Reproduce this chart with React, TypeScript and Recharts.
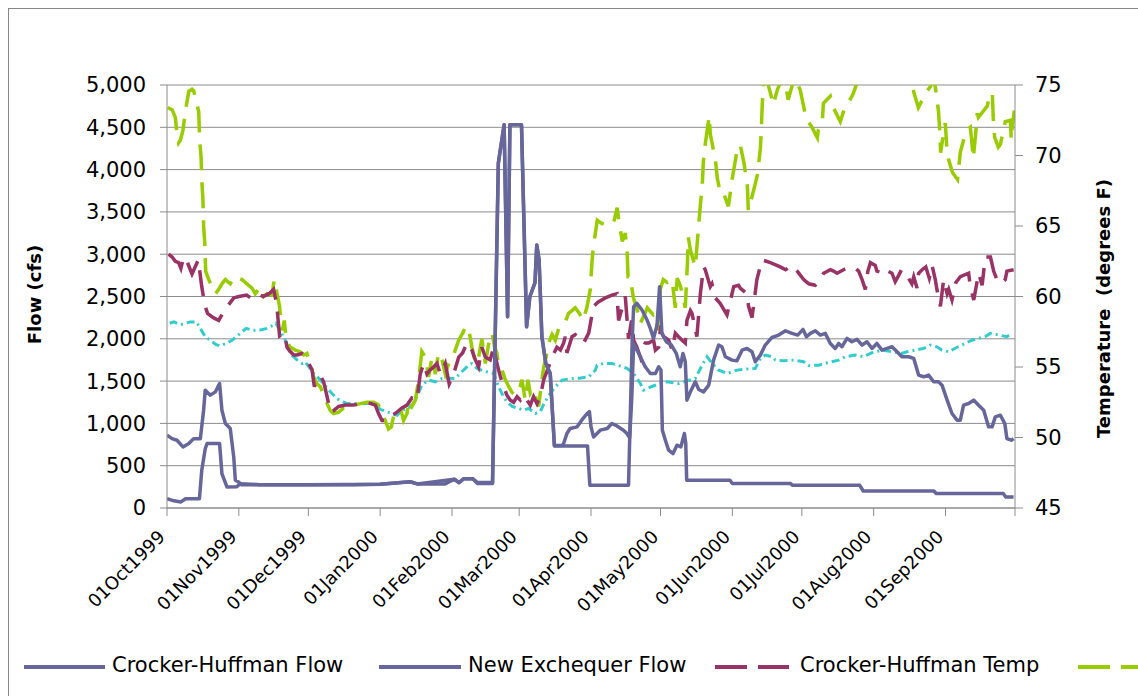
import React from 'react';
import { ComposedChart, Line, XAxis, YAxis, CartesianGrid } from 'recharts';

// day 0 = 01Oct1999
const monthTicks = [0, 31, 61, 92, 123, 152, 183, 213, 244, 274, 305, 336, 366];
const monthLabels = [
  '01Oct1999', '01Nov1999', '01Dec1999', '01Jan2000', '01Feb2000', '01Mar2000',
  '01Apr2000', '01May2000', '01Jun2000', '01Jul2000', '01Aug2000', '01Sep2000', '',
];
const flowTicks = [0, 500, 1000, 1500, 2000, 2500, 3000, 3500, 4000, 4500, 5000];
const tempTicks = [45, 50, 55, 60, 65, 70, 75];

const seriesNames = ['Crocker-Huffman Flow', 'New Exchequer Flow', 'Crocker-Huffman Temp'];

// [day, cfs]
const crockerFlow: [number, number][] = [
  [0, 110], [3, 85], [6, 72], [8, 110], [14, 110], [15, 446], [16.5, 700], [17.3, 762], [22.7, 762],
  [23.7, 406], [25.9, 248], [30, 250], [31.7, 288], [40, 276], [60, 276], [80, 276], [92, 280],
  [105, 310], [108, 285], [120, 285], [124, 340], [126, 300], [128, 345], [132, 345], [134, 290],
  [140.5, 290], [143, 4076], [145.5, 4530], [147, 2261], [148, 4530], [153, 4530], [155.2, 2143],
  [156.6, 2497], [158.8, 2660], [159.6, 3110], [160.6, 2930], [161.8, 2024], [163.5, 1709],
  [165.4, 1590], [166.4, 1117], [167.2, 740], [170.5, 740], [171.2, 762], [172.6, 881], [174, 940],
  [177, 959], [179, 1038], [181.3, 1117], [182.3, 1140], [183, 960], [184.1, 840], [187, 920],
  [190, 940], [192, 999], [194.2, 970], [197, 920], [198.5, 881], [199.7, 830], [200.6, 1300],
  [201.4, 1945], [204.3, 1788], [206.4, 1669], [208.6, 1590], [210.8, 1590], [212.2, 1669],
  [213.2, 1630], [213.8, 919], [215.1, 801], [216.5, 683], [218.4, 643], [220.1, 742], [221.8, 722],
  [223.3, 880], [223.9, 762], [224.3, 328], [243, 328], [244, 290], [269, 290], [270, 268],
  [299, 268], [300.5, 201], [331, 201], [332, 172], [361, 170], [362, 130], [365.4, 130],
];

const exchequerFlow: [number, number][] = [
  [0, 860], [2.2, 820], [4.3, 801], [6.9, 722], [9.4, 762], [11.5, 820], [14.4, 820], [15.8, 1156],
  [16.5, 1393], [18.7, 1334], [20.9, 1373], [22.7, 1472], [23.7, 1156], [25.2, 998], [27.3, 939],
  [28.8, 604], [29.5, 328], [30.9, 308], [32, 276], [60, 276], [92, 280], [105, 310], [108, 285],
  [124, 340], [126, 300], [128, 345], [132, 345], [134, 300], [140.5, 300], [143, 4076],
  [145.5, 4530], [147, 2261], [148, 4530], [153, 4530], [155.2, 2143], [156.6, 2497], [158.8, 2660],
  [159.6, 3110], [160.6, 2930], [161.8, 2024], [163.5, 1709], [165.4, 1590], [166.4, 1117],
  [167.2, 734], [181.5, 734], [182.5, 269], [199.2, 269], [200.8, 2000], [201.4, 2379],
  [202.8, 2419], [205, 2340], [207.2, 2222], [208.6, 2123], [210, 2005], [211.5, 2162],
  [212.6, 2616], [213.6, 2064], [215.5, 1965], [217.7, 1926], [219.8, 1827], [221.5, 1669],
  [222.7, 1827], [223.7, 1728], [224.4, 1275], [225.9, 1373], [228, 1492], [229.5, 1401],
  [231.6, 1373], [233.8, 1452], [235.9, 1748], [238.1, 1926], [239.5, 1906], [241, 1788],
  [243.9, 1748], [246, 1740], [248.2, 1866], [250.3, 1886], [252.5, 1847], [253.9, 1728],
  [256.1, 1807], [258.2, 1926], [261.1, 2016], [264, 2044], [266.9, 2095], [269.8, 2064],
  [272.2, 2044], [274.5, 2111], [276, 2024], [277.7, 2064], [279.8, 2095], [282, 2044],
  [284.1, 2064], [286.3, 1945], [288.4, 1886], [289.9, 1945], [291.3, 1906], [293.5, 2005],
  [295.6, 1965], [297.8, 1993], [300, 1926], [302.1, 1965], [304.3, 1886], [306.4, 1945],
  [308.6, 1866], [310.8, 1886], [312.9, 1906], [315.1, 1847], [317.2, 1788], [320.1, 1788],
  [322.3, 1768], [324.4, 1571], [326.6, 1551], [328.7, 1571], [330.9, 1492], [333, 1492],
  [334.5, 1452], [336.7, 1275], [338.8, 1117], [341, 1038], [342.4, 1038], [343.8, 1215],
  [346, 1235], [348.2, 1275], [350.3, 1215], [352.5, 1156], [354.6, 959], [356.1, 959],
  [357.5, 1077], [359.7, 1097], [361.6, 998], [362.5, 821], [364.4, 801], [365.4, 820],
];

// [day, degrees F]
const crockerTemp: [number, number][] = [
  [0.7, 63.0], [2.2, 62.8], [3.6, 62.5], [5, 62.4], [6, 62.0], [7.2, 62.8], [8.6, 62.5], [10.8, 61.6],
  [13.5, 62.6], [15, 60.7], [16.3, 59.4], [17.5, 58.8], [20, 58.5], [22.3, 58.3], [24, 58.8],
  [26.5, 59.4], [28.8, 59.9], [31, 60], [34.4, 60.1], [36, 59.9], [39, 60.2], [41.5, 60], [44, 60.2],
  [46, 60.5], [47.3, 59.5], [48.6, 57.2], [50.6, 57.4], [51.8, 56.4], [53.2, 56.1], [54.7, 55.85],
  [56.1, 55.85], [58.3, 55.96], [60.4, 55.5], [62.6, 54.8], [63.6, 53.6], [64.7, 54.2], [66.5, 54.3],
  [67.6, 53.95], [69.1, 52.9], [70.5, 51.8], [71.9, 51.9], [74.1, 52.2], [77, 52.3], [80.6, 52.3],
  [83.5, 52.4], [86.3, 52.5], [89.9, 52.3], [91.3, 51.7], [92.8, 51.2], [95, 51.2], [96.4, 51.5],
  [99.3, 51.8], [101.4, 52.1], [103.6, 52.3], [105.7, 52.8], [107.9, 52.65], [109.3, 54.5],
  [110.8, 55.25], [112.2, 54.5], [113.6, 54.8], [115.1, 55.0], [116.5, 55.25], [118, 54.5],
  [120.1, 55.25], [121.8, 53.8], [123.7, 54.5], [125.9, 55.7], [127.6, 56.0], [129.5, 56.7],
  [131.6, 56.2], [133.1, 55.5], [134.5, 55.0], [135.9, 56.4], [137.4, 55.7], [139.5, 55.5],
  [141, 56.4], [142.4, 55.25], [143.9, 54.3], [145.3, 53.6], [146.7, 53.0], [148.2, 52.65],
  [149.6, 52.5], [151.1, 52.9], [152.5, 52.65], [153.9, 53.0], [155.4, 52.65], [156.8, 52.3],
  [158.2, 52.9], [159.7, 52.4], [161.1, 52.9], [162.6, 54.1], [164.7, 55.0], [166.2, 55.7],
  [168.3, 56.4], [169.8, 56.2], [171.2, 56.7], [171.9, 57.15], [172.6, 56.0], [174.8, 57.15],
  [176.2, 57.3], [178.4, 57.0], [179.8, 56.7], [182, 57.4], [184.1, 59.3], [186, 59.6],
  [189.2, 59.9], [192, 60.1], [194.2, 60.2], [194.9, 58.3], [197.8, 60.0], [199.2, 57.0],
  [200.5, 58.3], [201.4, 56.9], [202.8, 56.4], [204.3, 55.7], [205, 56.2], [206.4, 56.7],
  [207.9, 56.7], [210, 56.9], [210.8, 56.2], [212.2, 56.4], [212.9, 57.6], [214.4, 57.15],
  [216.5, 56.9], [218, 56.2], [219.4, 57.4], [220.8, 57.15], [222.3, 56.9], [223.7, 56.7],
  [224.4, 58.3], [225.9, 59.0], [226.6, 58.8], [228.7, 57.15], [230.2, 60.2], [231.6, 62.1],
  [232.3, 61.9], [234.5, 60.7], [235.2, 60.9], [236.7, 59.9], [238.8, 59.5], [241.7, 58.7],
  [244.6, 60.7], [246.7, 60.8], [247.4, 60.6], [250.3, 60.2], [251, 59.3], [252.5, 58.5],
  [254.6, 61.2], [256.8, 62.6], [260.4, 62.4], [264.7, 62.1], [267, 61.9], [269.8, 62.2],
  [272, 61.8], [274.8, 61.2], [277, 60.9], [279.8, 60.8], [282, 61.2], [283.4, 61.65],
  [286.3, 61.9], [287.7, 61.8], [289.2, 61.65], [292, 61.9], [294.9, 62.1], [297.1, 62.0],
  [298.5, 61.8], [300, 61.2], [301.4, 60.5], [302.5, 61.8], [303.6, 62.4], [305.7, 62.2],
  [306.4, 61.8], [309.3, 61.65], [310, 61.9], [312.9, 61.65], [314.3, 61.05], [315.8, 61.5],
  [317, 61.9], [318.7, 61.65], [321.5, 60.9], [322.3, 61.4], [323.7, 60.6], [324.4, 61.65],
  [325.9, 61.9], [327.5, 62.1], [329, 61.3], [330.2, 62.2], [331.6, 61.2], [332.3, 60.5],
  [333.8, 59.3], [335.2, 61.2], [336.7, 60.2], [337.4, 60.5], [338.8, 59.75], [340.5, 61.0],
  [342.4, 61.4], [346, 61.65], [346.7, 60.7], [348.2, 59.75], [350.3, 61.65], [351.8, 60.8],
  [353.2, 62.8], [355.4, 62.8], [356.8, 61.8], [358.2, 61.2], [359.7, 60.9], [361.8, 61.2],
  [362.5, 61.8], [365.4, 61.9],
];

const greenTemp: [number, number][] = [
  [0.3, 73.4], [2.2, 73.25], [3.6, 72.7], [4.3, 71.5], [5, 70.9], [5.8, 71.1], [6.9, 71.8],
  [7.9, 73.1], [9.4, 74.55], [10.8, 74.7], [11.5, 74.6], [13.7, 73.1], [14.1, 71.1], [14.7, 69.9],
  [15.1, 68.0], [15.5, 66.9], [15.8, 65.0], [16.3, 63.8], [16.7, 61.8], [18, 61.2], [19.4, 60.7],
  [20.9, 60.2], [22.3, 60.5], [23.7, 60.9], [25.2, 61.2], [27.3, 60.9], [28.8, 61.4], [30.9, 61.3],
  [32.4, 61.2], [34.5, 60.9], [36.7, 60.6], [38.1, 60.2], [40.3, 60.7], [41.7, 60.0], [43.2, 60.2],
  [45.3, 60.1], [46.3, 61.2], [47.5, 60.2], [48.6, 59.3], [49.2, 58.1], [49.8, 57.6], [50.6, 58.3],
  [51.5, 56.9], [53.2, 56.4], [55.4, 56.2], [57.3, 56.1], [59, 55.85], [60.4, 55.96], [61.9, 55.25],
  [63.3, 54.3], [64.7, 53.8], [66.2, 53.6], [67.6, 53.0], [69.1, 52.4], [70.5, 51.9], [71.9, 51.7],
  [74.1, 51.8], [76.3, 52.1], [78.4, 52.1], [80.6, 52.3], [83.5, 52.4], [86.3, 52.5], [89.2, 52.5],
  [91.3, 52.3], [92.8, 51.7], [94.2, 51.2], [95.6, 50.6], [96.8, 50.75], [97.8, 51.5], [99.3, 51.7],
  [100.7, 52.1], [102.1, 51.2], [103.6, 51.7], [104.3, 52.65], [105.7, 52.2], [107.2, 52.65],
  [108.6, 54.1], [110, 56.1], [111.5, 55.7], [112.9, 54.3], [114.4, 55.7], [115.8, 54.5],
  [117.2, 56.0], [118.7, 55.5], [120.1, 54.5], [121.6, 55.25], [123.3, 55.7], [125.9, 56.9],
  [127.6, 57.4], [129, 57.9], [130.2, 57.7], [131.6, 56.4], [133.1, 55.25], [134.5, 55.7],
  [135.9, 57.0], [137.4, 55.25], [138.8, 56.6], [140.3, 57.4], [141.4, 56.4], [142.4, 56.0],
  [143.1, 55.0], [144.6, 54.8], [146, 54.1], [147.5, 53.6], [148.9, 53.2], [150.3, 53.0],
  [151.8, 53.2], [153.2, 54.1], [154.6, 52.65], [155.8, 54.1], [156.8, 53.1], [158.2, 53.4],
  [159, 52.9], [160.4, 52.2], [161.8, 54.1], [162.6, 55.0], [163.6, 55.7], [164.7, 56.7],
  [166.2, 57.3], [167.6, 56.9], [169, 57.7], [170.5, 58.1], [171.9, 58.2], [173.3, 58.8],
  [174.8, 59.0], [176.2, 59.2], [178, 58.8], [179.5, 58.3], [181.2, 59.2], [182.7, 60.5],
  [183.4, 62.4], [184, 63.5], [185.7, 65.4], [187.5, 65.2], [190.5, 65.0], [192.2, 65.2],
  [193, 65.4], [194.3, 66.3], [195, 65.4], [196.5, 63.9], [197.8, 64.5], [198.6, 63.1], [199, 61.4],
  [199.9, 61.4], [201.3, 59.9], [202.5, 59.3], [203.4, 58.8], [204.3, 58.1], [206, 58.7],
  [207.3, 59.2], [209.9, 58.7], [210.8, 58.8], [211.6, 57.6], [212.9, 60.5], [214.2, 61.2],
  [215.9, 61.0], [218, 61.2], [219.4, 59.2], [220.2, 61.3], [221.5, 60.8], [222.4, 60.2],
  [223.7, 59.2], [224.6, 62.3], [225, 64.2], [225.9, 63.3], [228, 62.1], [229.3, 64.7],
  [230.2, 66.5], [231, 67.8], [231.5, 69.6], [232.3, 70.8], [234, 72.8], [234.5, 71.5],
  [236.7, 69.7], [237.5, 68.4], [238.8, 67.35], [240.1, 67.35], [242.3, 66.4], [244, 68.4],
  [246.1, 70.4], [247.4, 70.75], [249, 69.5], [250.5, 67.8], [250.9, 66.1], [253, 67.4],
  [254.8, 68.6], [256.1, 70.5], [256.5, 71.8], [256.9, 73.6], [257.5, 75.2], [259, 75.3],
  [260.4, 74.45], [261.7, 73.6], [263.4, 74.65], [265, 75.3], [266.5, 75.5], [268.1, 73.95],
  [269.9, 75.0], [271.2, 75.4], [273.3, 74.65], [275.5, 72.9], [276.8, 72.4], [278.5, 71.96],
  [280.7, 71.25], [281.1, 71.8], [282.8, 72.3], [283.3, 73.7], [286.3, 74.2], [287.6, 73.4],
  [290.6, 72.4], [292.7, 73.5], [294, 73.7], [296.2, 74.4], [297.5, 75.0], [299, 75.4],
  [301, 76.5], [305, 77], [310, 76.8], [315, 77], [320, 76.3], [321.7, 75.3], [322.3, 74.5],
  [324.3, 73.4], [325.5, 73.8], [327.3, 74.4], [329.5, 74.9], [330.5, 75.4], [331.6, 74.9],
  [333, 73.1], [333.5, 71.8], [333.9, 70.2], [334.8, 71.2], [335.9, 72.3], [336.3, 71.3],
  [336.8, 70.0], [339, 68.8], [341.2, 68.3], [342.4, 70.25], [344.5, 71.5], [345.4, 71.8],
  [346.7, 72.0], [347.3, 71.1], [348, 69.8], [349, 71.5], [349.7, 73.0], [350.2, 72.7],
  [354, 73.5], [355, 74.2], [356.2, 74.45], [356.6, 72.7], [357.2, 71.3], [358.8, 70.6],
  [359.7, 70.8], [361.8, 72.4], [364, 72.5], [364.4, 71.1], [364.8, 72.0], [365.7, 73.2],
];

const cyanTemp: [number, number][] = [
  [1.2, 58.1], [3, 58.2], [5.8, 58.0], [8, 58.1], [10, 58.2], [12.7, 58.2], [16.5, 57.15],
  [18.7, 56.9], [21, 56.6], [23, 56.5], [25.9, 56.7], [28.1, 56.9], [34.2, 57.74], [37, 57.6],
  [40.3, 57.62], [43.2, 57.74], [46, 57.98], [47, 58.1], [51.1, 56.9], [53.2, 55.96], [56.1, 55.5],
  [58.3, 55.25], [59.7, 55.37], [63.3, 54.54], [65.5, 54.19], [67.6, 53.83], [69.8, 53.36],
  [71.2, 53.12], [74, 52.7], [77.7, 52.41], [83, 52.41], [89.2, 52.41], [92, 52.0], [95, 51.82],
  [97.1, 51.7], [99.3, 51.58], [101.4, 51.94], [104.3, 52.06], [105.7, 52.3], [107.2, 52.65],
  [110, 53.71], [112.9, 54.07], [115.8, 53.95], [118.7, 54.19], [121.5, 54.2], [124.4, 54.19],
  [127.3, 54.66], [130.2, 55.13], [131.6, 55.25], [133.8, 54.9], [137, 54.7], [141, 54.54],
  [143.1, 53.6], [145.3, 52.88], [146.7, 52.53], [149, 52.2], [151.8, 52.06], [153.9, 51.94],
  [156.1, 52.06], [159, 51.7], [161.1, 51.82], [163, 52.5], [165.4, 53.12], [167.6, 53.6],
  [170.5, 54.07], [174.8, 54.19], [178, 54.2], [182, 54.3], [184.9, 54.78], [185.6, 55.13],
  [188.5, 55.25], [192, 55.25], [195, 55.1], [198.5, 54.9], [201.4, 54.54], [204.3, 53.83],
  [205.7, 53.36], [209, 53.6], [212.9, 53.83], [215.8, 53.95], [220.8, 53.83], [224, 54.0],
  [228, 54.19], [230.6, 55.02], [233.1, 55.73], [235.5, 55.2], [238.1, 54.78], [241.7, 54.54],
  [246, 54.78], [250, 54.85], [253.9, 54.9], [256.1, 55.6], [258.2, 55.85], [261.1, 55.73],
  [262.6, 55.49], [266, 55.45], [270.5, 55.49], [274.8, 55.37], [277, 55.1], [281.3, 55.13],
  [285, 55.3], [289.9, 55.49], [292.8, 55.73], [297.1, 55.85], [300.7, 55.73], [304, 56.0],
  [308.6, 56.2], [312.9, 56.08], [317.2, 55.96], [319.4, 56.08], [323, 56.2], [326.6, 56.32],
  [329.5, 56.56], [332.3, 56.43], [334.4, 56.2], [337.4, 56.08], [341, 56.4], [344.5, 56.67],
  [347.4, 56.9], [350.3, 57.03], [353.1, 57.15], [355.3, 57.38], [358, 57.3], [362.5, 57.15],
  [364.7, 57.38],
];

const toPoints = (arr: [number, number][]) => arr.map(([day, value]) => ({ day, value }));

const FONT = '"DejaVu Sans", sans-serif';
const FLOW_COLOR = '#66669a';
const MAROON = '#993366';
const GREEN = '#99cc00';
const CYAN = '#33cccc';
const AXIS_GRAY = '#8c8c8c';

const DateTick = (props: any) => {
  const { x, y, payload } = props;
  const idx = monthTicks.indexOf(payload.value);
  const label = monthLabels[idx] || '';
  if (!label) return null;
  const ax = x - 1;
  const ay = y + 20;
  return (
    <text
      x={ax}
      y={ay}
      transform={`rotate(-45 ${ax} ${ay})`}
      textAnchor="end"
      fontFamily={FONT}
      fontSize={18}
      fill="#000"
    >
      {label}
    </text>
  );
};

const LegendIcon = ({ color, dashed, width }: { color: string; dashed?: boolean; width: number }) => (
  <svg width={width} height={10} style={{ display: 'block' }}>
    <line
      x1={0}
      y1={5}
      x2={width}
      y2={5}
      stroke={color}
      strokeWidth={4}
      strokeDasharray={dashed ? '32 11' : undefined}
    />
  </svg>
);

export default function App() {
  return (
    <div style={{ position: 'fixed', left: 0, top: 0, width: 1138, height: 696, overflow: 'hidden', background: '#fff' }}>
      <div
        style={{
          position: 'absolute',
          left: 8,
          top: 8,
          width: 1300,
          height: 900,
          borderLeft: '1px solid #868686',
          borderTop: '1px solid #868686',
        }}
      />
      <div style={{ position: 'absolute', left: 0, top: 0 }}>
        <ComposedChart width={1138} height={696} margin={{ top: 85, right: 13, bottom: 88, left: 17 }}>
          <CartesianGrid yAxisId="flow" vertical={false} stroke={AXIS_GRAY} strokeWidth={1} />
          <XAxis
            dataKey="day"
            type="number"
            domain={[0, 366]}
            ticks={monthTicks}
            interval={0}
            height={100}
            tickSize={8}
            axisLine={{ stroke: AXIS_GRAY }}
            tickLine={{ stroke: AXIS_GRAY }}
            tick={<DateTick />}
            allowDataOverflow
          />
          <YAxis
            yAxisId="flow"
            orientation="left"
            width={150}
            domain={[0, 5000]}
            ticks={flowTicks}
            interval={0}
            tickSize={7}
            tickMargin={14}
            axisLine={{ stroke: AXIS_GRAY }}
            tickLine={{ stroke: AXIS_GRAY }}
            tick={{ fill: '#000', fontSize: 21, fontFamily: FONT }}
            tickFormatter={(v: number) => v.toLocaleString('en-US')}
            label={{
              content: (p: any) => {
                const vb = p.viewBox || { x: 17, y: 85, width: 150, height: 423 };
                const cx = vb.x + 17;
                const cy = vb.y + vb.height / 2 - 2;
                return (
                  <text
                    x={cx}
                    y={cy}
                    transform={`rotate(-90 ${cx} ${cy})`}
                    textAnchor="middle"
                    dominantBaseline="central"
                    fontFamily={FONT}
                    fontSize={18}
                    fontWeight="bold"
                    fill="#000"
                  >
                    Flow (cfs)
                  </text>
                );
              },
            }}
          />
          <YAxis
            yAxisId="temp"
            orientation="right"
            width={110}
            domain={[45, 75]}
            ticks={tempTicks}
            interval={0}
            allowDataOverflow
            tickSize={8}
            tickMargin={12}
            axisLine={{ stroke: AXIS_GRAY }}
            tickLine={{ stroke: AXIS_GRAY }}
            tick={{ fill: '#000', fontSize: 21, fontFamily: FONT }}
            label={{
              content: (p: any) => {
                const vb = p.viewBox || { x: 1015, y: 85, width: 110, height: 423 };
                const cx = vb.x + 88;
                const cy = vb.y + vb.height / 2 + 12;
                return (
                  <text
                    x={cx}
                    y={cy}
                    transform={`rotate(-90 ${cx} ${cy})`}
                    textAnchor="middle"
                    dominantBaseline="central"
                    fontFamily={FONT}
                    fontSize={18}
                    fontWeight="bold"
                    fill="#000"
                    style={{ whiteSpace: 'pre' }}
                  >
                    {'Temperature  (degrees F)'}
                  </text>
                );
              },
            }}
          />
          <Line
            data={toPoints(cyanTemp)}
            dataKey="value"
            yAxisId="temp"
            type="linear"
            stroke={CYAN}
            strokeWidth={3}
            strokeDasharray="8 4 2 4"
            dot={false}
            isAnimationActive={false}
          />
          <Line
            data={toPoints(greenTemp)}
            dataKey="value"
            yAxisId="temp"
            type="linear"
            stroke={GREEN}
            strokeWidth={3.5}
            strokeDasharray="26 12"
            dot={false}
            isAnimationActive={false}
          />
          <Line
            data={toPoints(crockerTemp)}
            dataKey="value"
            yAxisId="temp"
            name={seriesNames[2]}
            type="linear"
            stroke={MAROON}
            strokeWidth={3.5}
            strokeDasharray="26 12"
            dot={false}
            isAnimationActive={false}
          />
          <Line
            data={toPoints(exchequerFlow)}
            dataKey="value"
            yAxisId="flow"
            name={seriesNames[1]}
            type="linear"
            stroke={FLOW_COLOR}
            strokeWidth={3.5}
            strokeLinejoin="round"
            dot={false}
            isAnimationActive={false}
          />
          <Line
            data={toPoints(crockerFlow)}
            dataKey="value"
            yAxisId="flow"
            name={seriesNames[0]}
            type="linear"
            stroke={FLOW_COLOR}
            strokeWidth={3.5}
            strokeLinejoin="round"
            dot={false}
            isAnimationActive={false}
          />
        </ComposedChart>
      </div>
      <div
        style={{
          position: 'absolute',
          top: 652,
          left: 0,
          width: 1138,
          height: 30,
          fontFamily: FONT,
          fontSize: 21,
          color: '#000',
        }}
      >
        <div style={{ position: 'absolute', left: 24, top: 10 }}>
          <LegendIcon color={FLOW_COLOR} width={81} />
        </div>
        <div style={{ position: 'absolute', left: 112, top: 1, whiteSpace: 'nowrap' }}>{seriesNames[0]}</div>
        <div style={{ position: 'absolute', left: 379, top: 10 }}>
          <LegendIcon color={FLOW_COLOR} width={82} />
        </div>
        <div style={{ position: 'absolute', left: 468, top: 1, whiteSpace: 'nowrap' }}>{seriesNames[1]}</div>
        <div style={{ position: 'absolute', left: 715, top: 10 }}>
          <LegendIcon color={MAROON} dashed width={74} />
        </div>
        <div style={{ position: 'absolute', left: 800, top: 1, whiteSpace: 'nowrap' }}>{seriesNames[2]}</div>
        <div style={{ position: 'absolute', left: 1078, top: 10 }}>
          <LegendIcon color={GREEN} dashed width={74} />
        </div>
      </div>
    </div>
  );
}
